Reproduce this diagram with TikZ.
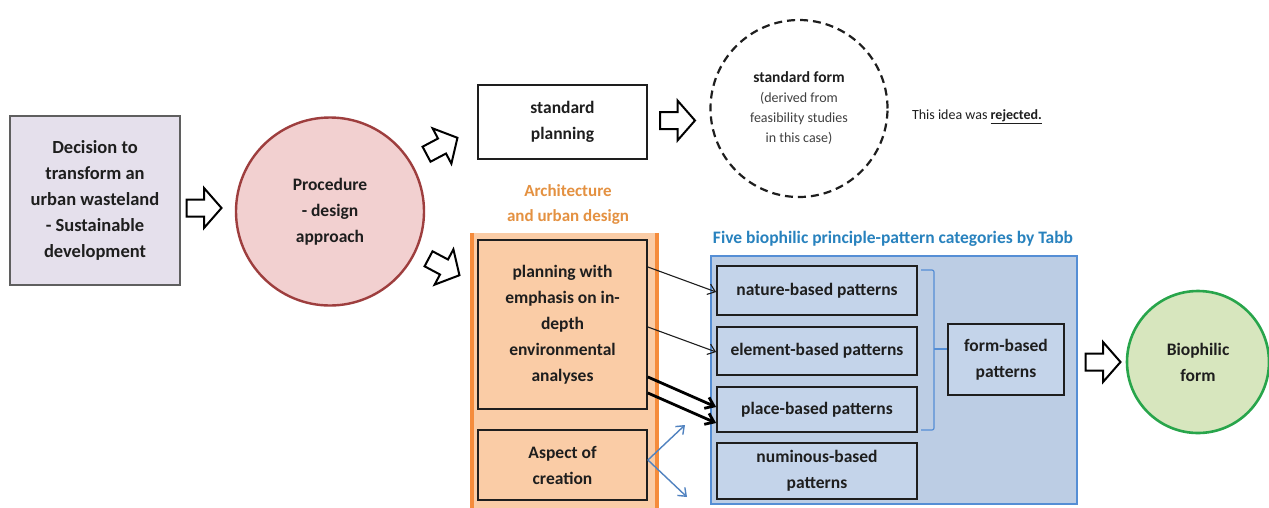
\documentclass[tikz,border=0pt]{standalone}
\usepackage{fontspec}
\setmainfont{Carlito}
\usetikzlibrary{arrows.meta,calc}

\definecolor{decfill}{RGB}{229,224,236}
\definecolor{decline}{RGB}{95,95,95}
\definecolor{procfill}{RGB}{242,208,208}
\definecolor{procline}{RGB}{158,62,62}
\definecolor{orfill}{RGB}{250,204,166}
\definecolor{orline}{RGB}{245,140,60}
\definecolor{ortext}{RGB}{228,145,65}
\definecolor{bluefill}{RGB}{188,205,228}
\definecolor{patfill}{RGB}{196,212,234}
\definecolor{blueline}{RGB}{85,142,213}
\definecolor{bluetext}{RGB}{40,130,190}
\definecolor{arrblue}{RGB}{80,130,192}
\definecolor{biofill}{RGB}{215,230,190}
\definecolor{bioline}{RGB}{40,165,75}
\definecolor{inkc}{RGB}{30,30,30}

\tikzset{
  every node/.style={inner sep=0pt, align=center, text=inkc},
  maintext/.style={font=\bfseries\fontsize{17.5}{26}\selectfont},
  box/.style={maintext, rectangle, draw=inkc, line width=1.8pt},
  patbox/.style={box, fill=patfill, minimum width=200pt},
  orbox/.style={box, fill=orfill, minimum width=169pt},
  thinarrow/.style={draw=inkc, line width=1.1pt, -{Straight Barb[length=7pt,width=11pt]}},
  thickarrow/.style={draw=black, line width=2.8pt, -{Straight Barb[length=8pt,width=12pt]}},
  bluearrow/.style={draw=arrblue, line width=1.4pt, -{Straight Barb[length=7pt,width=11pt]}},
  hollowarrow/.pic={
    \draw[line width=2pt, fill=white, line join=miter]
      (-17.5,-8.5) -- (0,-8.5) -- (0,-20) -- (17.5,0) -- (0,20) -- (0,8.5) -- (-17.5,8.5) -- cycle;
  }
}

\begin{document}
\begin{tikzpicture}[x=1pt, y=-1pt]
\useasboundingbox (0,0) rectangle (1269,507);
\fill[white] (0,0) rectangle (1269,507);

% starting decision and the design procedure
\node[box, draw=decline, fill=decfill, minimum width=170pt, minimum height=169pt,
      font=\bfseries\fontsize{18.5}{26}\selectfont] (decision) at (95,200.5)
  {Decision to\\transform an\\urban wasteland\\- Sustainable\\development};
\node[maintext, circle, draw=procline, fill=procfill, line width=2.4pt, minimum size=188pt] (proc) at (330,211.5)
  {Procedure\\- design\\approach};

% standard route (rejected)
\node[box, fill=white, minimum width=169pt, minimum height=74pt] (stdplan) at (562.5,122) {standard\\planning};
\node[circle, draw=inkc, line width=2.2pt, dash pattern=on 8pt off 5pt, minimum size=177pt] (stdform) at (799,108.5) {};
\node[font=\bfseries\fontsize{15.5}{21}\selectfont] (stdformtitle) at (799,77) {standard form};
\node[font=\fontsize{14}{20}\selectfont, text=inkc!85] (stdformnote) at (799,118)
  {(derived from\\feasibility studies\\in this case)};
\node[font=\fontsize{14}{16}\selectfont] (rejected) at (977,117)
  {This idea was \underline{\textbf{rejected.}}};

% architecture and urban design column
\node[font=\bfseries\fontsize{17}{25}\selectfont, text=ortext] (archlabel) at (568,204.5)
  {Architecture\\and urban design};
\node[rectangle, fill=orfill, minimum width=185pt, minimum height=287pt] (arch) at (564.5,376.5) {};
\draw[orline, line width=3.5pt] (arch.north west) -- (arch.south west);
\draw[orline, line width=3.5pt] (arch.north east) -- (arch.south east);
\node[orbox, minimum height=169pt] (plan) at (562.5,324.5)
  {planning with\\emphasis on in-\\depth\\environmental\\analyses};
\node[orbox, minimum height=70pt] (aspect) at (562.5,465) {Aspect of\\creation};

% biophilic pattern categories
\node[font=\bfseries\fontsize{17.5}{20}\selectfont, text=bluetext] (tabbtitle) at (893,239)
  {Five biophilic principle-pattern categories by Tabb};
\node[rectangle, draw=blueline, fill=bluefill, line width=2.2pt, minimum width=366pt, minimum height=248pt] (tabb) at (894,380) {};
\node[patbox, minimum height=49pt] (nature) at (817,290.5) {nature-based patterns};
\node[patbox, minimum height=48pt] (element) at (817,351) {element-based patterns};
\node[patbox, minimum height=45pt] (place) at (817,409.5) {place-based patterns};
\node[patbox, minimum height=56pt] (numinous) at (817,471) {numinous-based\\patterns};
\node[box, fill=patfill, minimum width=116pt, minimum height=71pt] (formbased) at (1006,359.5) {form-based\\patterns};

% bracket grouping the form-based categories
\coordinate (brtop) at (921,270);
\coordinate (brbot) at (921,430);
\coordinate (brmid) at (934,349);
\draw[blueline, line width=1.2pt, rounded corners=2pt] (brtop) -- (934,270) -- (934,430) -- (brbot);
\draw[blueline, line width=1.2pt] (brmid) -- (formbased.west |- brmid);

\node[maintext, circle, draw=bioline, fill=biofill, line width=2.6pt, minimum size=142pt] (bio) at (1198,362)
  {Biophilic\\form};

% block arrows
\pic at (204,208) {hollowarrow};
\pic[rotate=28] at (442,146) {hollowarrow};
\pic[rotate=-28] at (444,267) {hollowarrow};
\pic at (677.5,120.5) {hollowarrow};
\pic at (1103,362) {hollowarrow};

% links from the analyses to the pattern categories
\draw[thinarrow] ([yshift=57.5pt]plan.east) -- ([yshift=-1.5pt]nature.west);
\draw[thinarrow] ([yshift=-2.5pt]plan.east) -- ([yshift=-1pt]element.west);
\draw[thickarrow] ([yshift=-52.5pt]plan.east) -- ([yshift=2.5pt]place.west);
\draw[thickarrow] ([yshift=-68.5pt]plan.east) -- ([yshift=-13.5pt]place.west);

% aspect of creation
\coordinate (creaup) at (685,425);
\coordinate (creadown) at (687,497);
\draw[bluearrow] ([yshift=5pt]aspect.east) -- (creaup);
\draw[bluearrow] ([yshift=5pt]aspect.east) -- (creadown);
\end{tikzpicture}
\end{document}
